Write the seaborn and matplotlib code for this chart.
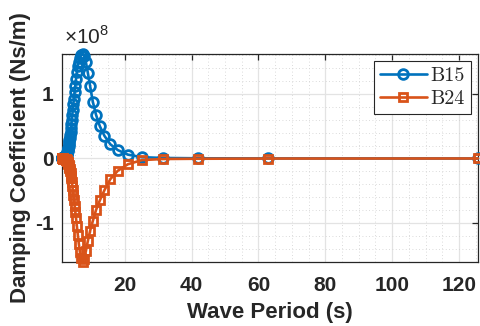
import matplotlib
matplotlib.use("Agg")
import matplotlib.pyplot as plt
import matplotlib.ticker as mticker
import pandas as pd
import seaborn as sns

# Wellenperioden (s), omega = 0.05 ... 5.0 rad/s
period = [
    125.66, 62.83, 41.89, 31.42, 25.13, 20.94, 17.95, 15.71, 13.96, 12.57,
    11.42, 10.47, 9.67, 8.98, 8.38, 7.85, 7.39, 6.98, 6.61, 6.28,
    5.98, 5.71, 5.46, 5.24, 5.03, 4.83, 4.65, 4.49, 4.33, 4.19,
    4.05, 3.93, 3.81, 3.70, 3.59, 3.49, 3.40, 3.31, 3.22, 3.14,
    3.06, 2.99, 2.92, 2.86, 2.79, 2.73, 2.67, 2.62, 2.56, 2.51,
    2.46, 2.42, 2.37, 2.33, 2.28, 2.24, 2.20, 2.17, 2.13, 2.09,
    2.06, 2.03, 1.99, 1.96, 1.93, 1.90, 1.88, 1.85, 1.82, 1.80,
    1.77, 1.75, 1.72, 1.70, 1.68, 1.65, 1.63, 1.61, 1.59, 1.57,
    1.55, 1.53, 1.51, 1.50, 1.48, 1.46, 1.44, 1.43, 1.41, 1.40,
    1.38, 1.37, 1.35, 1.34, 1.32, 1.31, 1.30, 1.28, 1.27, 1.2566,
]

# Daempfungskoeffizienten in 1e8 Ns/m
b15 = [
    0.0, 0.001, 0.003, 0.008, 0.02, 0.06, 0.13, 0.22, 0.35, 0.50,
    0.68, 0.88, 1.12, 1.33, 1.50, 1.59, 1.62, 1.60, 1.56, 1.50,
    1.43, 1.34, 1.24, 1.13, 1.03, 0.93, 0.84, 0.75, 0.67, 0.60,
    0.53, 0.47, 0.41, 0.36, 0.32, 0.28, 0.25, 0.22, 0.19, 0.17,
    0.15, 0.13, 0.11, 0.10, 0.09, 0.08, 0.07, 0.06, 0.053, 0.046,
    0.040, 0.035, 0.030, 0.026, 0.023, 0.020, 0.017, 0.015, 0.013, 0.011,
    0.010, 0.009, 0.008, 0.007, 0.006, 0.005, 0.005, 0.004, 0.004, 0.003,
    0.003, 0.003, 0.002, 0.002, 0.002, 0.002, 0.002, 0.001, 0.001, 0.001,
    0.001, 0.001, 0.001, 0.001, 0.001, 0.0, 0.0, 0.0, 0.0, 0.0,
    0.0, 0.0, 0.0, 0.0, 0.0, 0.0, 0.0, 0.0, 0.0, 0.0,
]
b24 = [
    0.0, -0.001, -0.004, -0.008, -0.025, -0.09, -0.19, -0.32, -0.49, -0.65,
    -0.80, -0.97, -1.12, -1.28, -1.44, -1.56, -1.605, -1.55, -1.45, -1.32,
    -1.18, -1.05, -0.93, -0.83, -0.73, -0.64, -0.56, -0.49, -0.42, -0.36,
    -0.31, -0.27, -0.23, -0.20, -0.17, -0.15, -0.13, -0.11, -0.095, -0.082,
    -0.071, -0.061, -0.053, -0.046, -0.040, -0.035, -0.030, -0.026, -0.022, -0.019,
    -0.016, -0.014, -0.012, -0.010, -0.009, -0.008, -0.007, -0.006, -0.005, -0.005,
    -0.004, -0.004, -0.003, -0.003, -0.003, -0.002, -0.002, -0.002, -0.002, -0.001,
    -0.001, -0.001, -0.001, -0.001, -0.001, -0.001, -0.001, 0.0, 0.0, 0.0,
    0.0, 0.0, 0.0, 0.0, 0.0, 0.0, 0.0, 0.0, 0.0, 0.0,
    0.0, 0.0, 0.0, 0.0, 0.0, 0.0, 0.0, 0.0, 0.0, 0.0,
]

df = pd.DataFrame({
    "T": period,
    "B15": [v * 1e8 for v in b15],
    "B24": [v * 1e8 for v in b24],
})

sns.set_theme(style="white")
plt.rcParams["font.family"] = ["Liberation Sans", "DejaVu Sans"]
plt.rcParams["mathtext.fontset"] = "custom"
plt.rcParams["mathtext.rm"] = "Liberation Sans"
plt.rcParams["axes.unicode_minus"] = False

DARK = "#262626"
BLUE = "#0072BD"
ORANGE = "#D95319"

fig = plt.figure(figsize=(4.8, 3.26), dpi=100)
ax = fig.add_axes([62 / 480, 64 / 326, 416 / 480, 208 / 326])

sns.lineplot(data=df, x="T", y="B15", ax=ax, color=BLUE, lw=1.9,
             marker="o", markersize=7.0, markerfacecolor="none",
             markeredgecolor=BLUE, markeredgewidth=2.0,
             estimator=None, sort=False, label="B15", clip_on=False, zorder=3)
sns.lineplot(data=df, x="T", y="B24", ax=ax, color=ORANGE, lw=1.9,
             marker="s", markersize=5.8, markerfacecolor="none",
             markeredgecolor=ORANGE, markeredgewidth=2.0,
             estimator=None, sort=False, label="B24", clip_on=False, zorder=4)

ax.set_xlim(1.2566, 125.66)
ax.set_ylim(-1.605e8, 1.62e8)

ax.xaxis.set_major_locator(mticker.FixedLocator([20, 40, 60, 80, 100, 120]))
ax.xaxis.set_minor_locator(mticker.MultipleLocator(5))
ax.yaxis.set_major_locator(mticker.FixedLocator([-1e8, 0, 1e8]))
ax.yaxis.set_minor_locator(mticker.MultipleLocator(0.2e8))
ax.yaxis.set_major_formatter(mticker.FuncFormatter(lambda v, p: f"{v / 1e8:g}"))

ax.grid(True, which="major", color="#e3e3e3", lw=0.9, ls="-")
ax.grid(True, which="minor", color="#cfcfcf", lw=0.6, ls=(0, (1, 3)))
ax.set_axisbelow(True)

ax.tick_params(which="major", direction="in", length=4, width=0.9, color=DARK,
               top=True, right=True, labelsize=15, labelcolor=DARK)
ax.tick_params(axis="x", which="major", pad=10)
ax.tick_params(axis="y", which="major", pad=6)
ax.tick_params(which="minor", length=0)
for lab in ax.get_xticklabels() + ax.get_yticklabels():
    lab.set_fontweight("bold")
for s in ax.spines.values():
    s.set_color(DARK)
    s.set_linewidth(0.9)

ax.set_xlabel("Wave Period (s)", fontsize=16, fontweight="bold", color=DARK,
              labelpad=5)
ax.set_ylabel("Damping Coefficient (Ns/m)", fontsize=16, fontweight="bold",
              color=DARK, labelpad=3)

ax.text(0.005, 1.03, "×10$^{8}$", transform=ax.transAxes, fontsize=15,
        color=DARK, ha="left", va="bottom")

leg = ax.legend(loc="upper right", prop={"family": "cmr10", "size": 14.5},
                frameon=True, fancybox=False, framealpha=1, edgecolor=DARK,
                borderaxespad=0.35, handlelength=2.3, handletextpad=0.2,
                borderpad=0.3, labelspacing=0.25)
leg.get_frame().set_linewidth(0.8)

fig.savefig("out.png", dpi=100)
